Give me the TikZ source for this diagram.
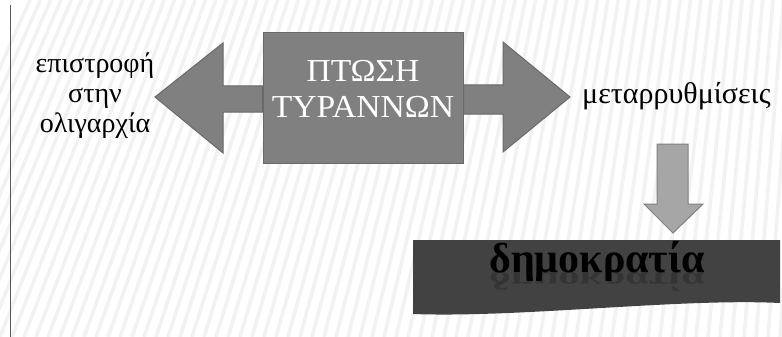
\documentclass[tikz,border=0pt]{standalone}
\usepackage{fontspec}
\setmainfont{Liberation Serif}
\newfontfamily\boxfont[FakeStretch=1.05]{Liberation Serif}
\usetikzlibrary{calc}

\definecolor{boxgray}{RGB}{128,128,128}
\definecolor{edgegray}{RGB}{105,105,105}
\definecolor{downgray}{RGB}{166,166,166}
\definecolor{bandgray}{RGB}{66,66,66}

\tikzset{
  blockarrow/.style={fill=boxgray, draw=edgegray, line width=1pt},
  sidetext/.style={font=\fontsize{28}{30}\selectfont, align=center, text=black},
}

\begin{document}
\begin{tikzpicture}[x=1pt, y=-1pt]

\useasboundingbox (0,0) rectangle (782,337);
\fill [white] (0,0) rectangle (782,337);

% faint stripes of the slide background
\foreach \s in {0,12,...,900}
  \draw [gray!10, line width=3.5pt] (\s-120,337) -- ({\s-120+150-0.14*\s},0);

\draw [gray!70!black, line width=1pt] (10,5) -- (10,337);

\node (fall) at (363,98) [fill=boxgray, draw=edgegray, line width=1pt,
      minimum width=200pt, minimum height=130pt] {};
\node (falltext) at (363,88.5) [align=center, inner sep=0pt,
      text=white, font=\boxfont\fontsize{32}{36}\selectfont] {ΠΤΩΣΗ\\ΤΥΡΑΝΝΩΝ};

\draw [blockarrow] (fall.west |- 0,86) -- (223,86) -- (223,43) -- (155,97)
      -- (223,153) -- (223,112) -- (fall.west |- 0,112) -- cycle;

\draw [blockarrow] (fall.east |- 0,85) -- (503,85) -- (503,42) -- (570,97)
      -- (503,152) -- (503,114) -- (fall.east |- 0,114) -- cycle;

\node (back) at (95,132) [sidetext, anchor=base] {επιστροφή\\στην\\ολιγαρχία};

\node (reform) at (582,103) [anchor=base west, inner sep=0pt,
      font=\fontsize{30}{30}\selectfont] {μεταρρυθμίσεις};

\draw [fill=downgray, draw=gray, line width=1pt] (657,144) -- (688,144) -- (688,204)
      -- (703,204) -- (673,233) -- (644,204) -- (657,204) -- cycle;

\fill [bandgray] (413,240) -- (780,240) -- (780,303)
      .. controls (680,298) and (520,318) .. (413,314) -- cycle;

\node (demo) at (597,272) [anchor=base, inner sep=0pt, text=black,
      font=\bfseries\fontsize{42}{44}\selectfont] {δημοκρατία};
\node (demoflip) at (597,272) [anchor=base, inner sep=0pt, text=black, text opacity=0.2,
      font=\bfseries\fontsize{42}{44}\selectfont] {\scalebox{1}[-0.6]{δημοκρατία}};

\end{tikzpicture}
\end{document}
